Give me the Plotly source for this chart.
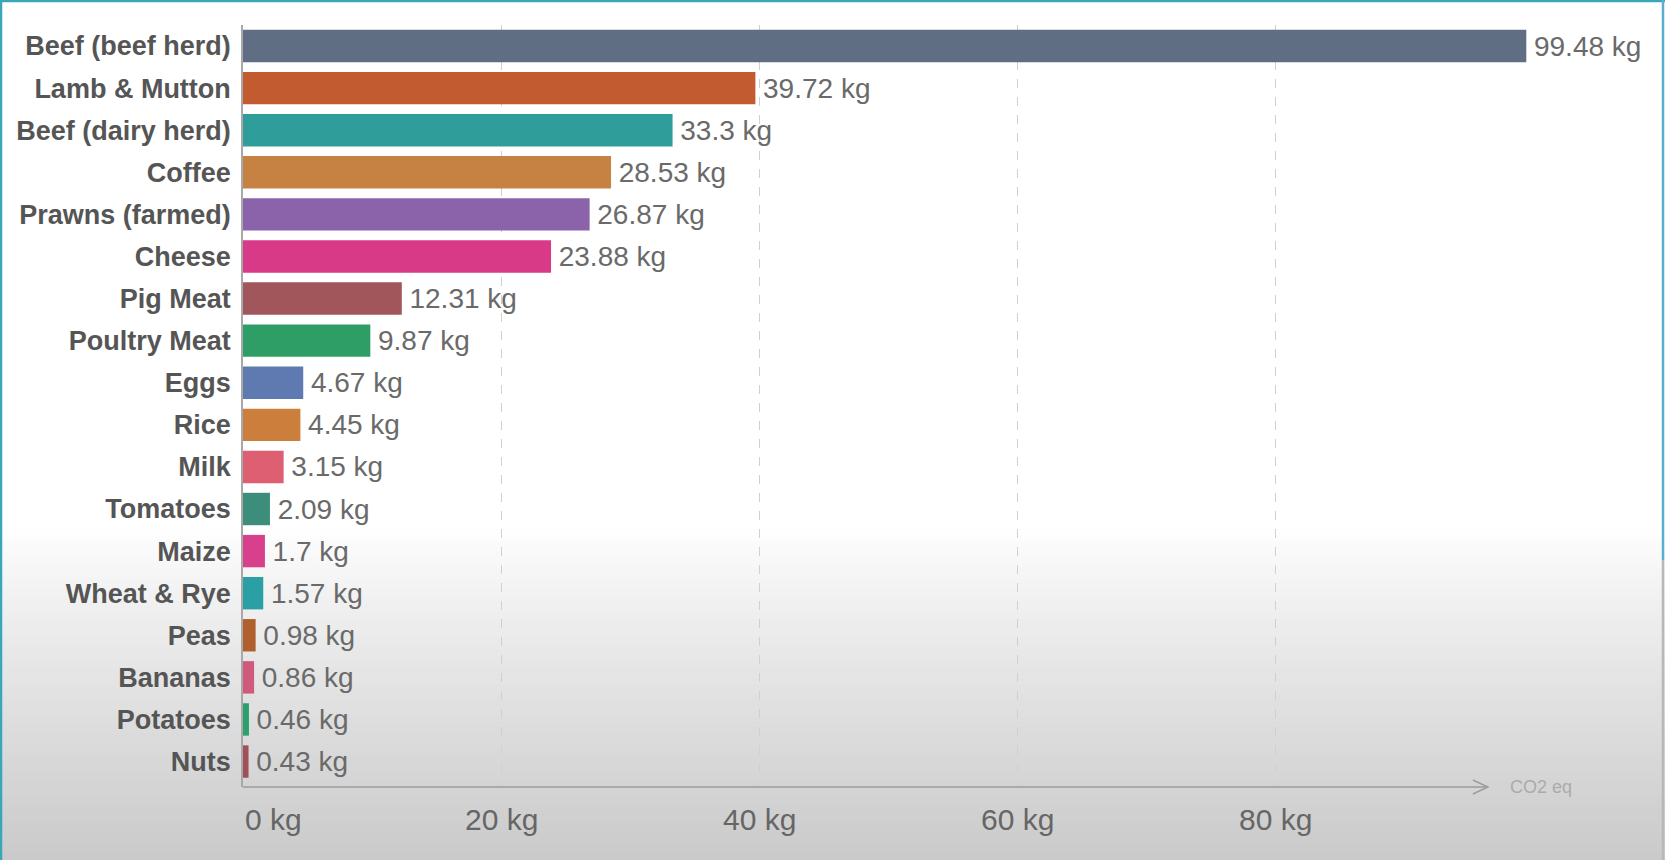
import numpy as np
import plotly.graph_objects as go


FOODS = [
    "Beef (beef herd)", "Lamb & Mutton", "Beef (dairy herd)", "Coffee",
    "Prawns (farmed)", "Cheese", "Pig Meat", "Poultry Meat", "Eggs", "Rice",
    "Milk", "Tomatoes", "Maize", "Wheat & Rye", "Peas", "Bananas",
    "Potatoes", "Nuts",
]
CO2_KG = [
    99.48, 39.72, 33.3, 28.53, 26.87, 23.88, 12.31, 9.87, 4.67, 4.45,
    3.15, 2.09, 1.7, 1.57, 0.98, 0.86, 0.46, 0.43,
]
BAR_COLORS = [
    "#5f6e83", "#c25b2f", "#2f9e9a", "#c58242", "#8b63aa", "#d93a87",
    "#a0565a", "#2e9e66", "#5f7ab0", "#cc7f3c", "#df5f72", "#3d8d7b",
    "#d8408c", "#2aa0a4", "#b0602f", "#cf5a7b", "#2b9f6d", "#a05058",
]
TICK_VALUES = [0, 20, 40, 60, 80]
TICK_LABELS = ["0 kg", "20 kg", "40 kg", "60 kg", "80 kg"]
AXIS_END = 96.5

W, H = 1665, 860
M_L, M_R, M_T, M_B = 243, 132, 25, 73
PLOT_W = W - M_L - M_R
PLOT_H = H - M_T - M_B
FONT = "Liberation Sans, Arial, sans-serif"


def px_x(px):
    # figure pixel -> paper x
    return (px - M_L) / PLOT_W


def px_y(px):
    # figure pixel (from top) -> paper y
    return (H - M_B - px) / PLOT_H


fig = go.Figure(
    go.Bar(
        x=CO2_KG,
        y=FOODS,
        orientation="h",
        width=0.77,
        marker=dict(color=BAR_COLORS, line=dict(width=0)),
        text=["\u2006%g kg" % v for v in CO2_KG],
        textposition="outside",
        cliponaxis=False,
        textfont=dict(family=FONT, size=28, color="#6a6a6a"),
        hoverinfo="skip",
    )
)

# background fade towards the bottom (screen capture shading)
shapes = []
y_start, n_bands = 530, 60
edges = np.linspace(y_start, H, n_bands + 1)
for k in range(n_bands):
    t = (k + 0.5) / n_bands
    g = int(round(255 - (255 - 202) * t ** 0.85))
    shapes.append(dict(
        type="rect", xref="paper", yref="paper", layer="below",
        x0=px_x(-5), x1=px_x(W + 5),
        y0=px_y(edges[k + 1] + 0.5), y1=px_y(edges[k] - 0.5),
        fillcolor="rgb(%d,%d,%d)" % (g, g, g), line=dict(width=0),
    ))

# x axis line with an open arrow head
shapes.append(dict(
    type="line", xref="x", yref="paper", x0=0, x1=AXIS_END, y0=0, y1=0,
    line=dict(color="#9c9c9c", width=1.5),
))
shapes.append(dict(
    type="path", xref="x", yref="paper", xsizemode="pixel", ysizemode="pixel",
    xanchor=AXIS_END, yanchor=0, path="M-15,-7 L0,0 L-15,7",
    line=dict(color="#9c9c9c", width=1.5),
))

# frame edges of the capture
frame = [
    (1, 1, 0, H, "#3aa7b6"),
    (0, W, 1, 1, "#3aa7b6"),
    (W - 2, W - 2, 0, 560, "#5aaed0"),
    (W - 2, W - 2, 560, H, "#b8b8b8"),
]
for x0, x1, y0, y1, col in frame:
    shapes.append(dict(
        type="line", xref="paper", yref="paper",
        x0=px_x(x0), x1=px_x(x1), y0=px_y(y0), y1=px_y(y1),
        line=dict(color=col, width=2.5),
    ))

annotations = []
for v, lab in zip(TICK_VALUES, TICK_LABELS):
    annotations.append(dict(
        x=v, y=0, xref="x", yref="paper", text=lab, showarrow=False,
        xanchor="left" if v == 0 else "center", yanchor="middle", yshift=-32,
        font=dict(family=FONT, size=30, color="#666666"),
    ))
annotations.append(dict(
    x=AXIS_END, y=0, xref="x", yref="paper", text="CO2 eq", showarrow=False,
    xanchor="left", yanchor="middle", xshift=20,
    font=dict(family=FONT, size=18, color="#ababab"),
))

fig.update_layout(
    width=W,
    height=H,
    margin=dict(l=M_L, r=M_R, t=M_T, b=M_B, pad=0),
    paper_bgcolor="white",
    plot_bgcolor="rgba(0,0,0,0)",
    showlegend=False,
    shapes=shapes,
    annotations=annotations,
    xaxis=dict(
        range=[0, 100],
        tickvals=TICK_VALUES[1:],
        showticklabels=False,
        showgrid=True,
        gridcolor="#d0d0d0",
        griddash="dash",
        gridwidth=1,
        zeroline=False,
        showline=False,
        fixedrange=True,
    ),
    yaxis=dict(
        categoryorder="array",
        categoryarray=FOODS,
        range=[17.605, -0.5],
        showline=True,
        linecolor="#a8a8a8",
        linewidth=1.5,
        showgrid=False,
        zeroline=False,
        ticks="",
        ticklabelstandoff=5,
        tickfont=dict(family=FONT, size=27, color="#555555", weight="bold"),
        fixedrange=True,
    ),
)

fig.write_html(
    "out.html",
    config={"displayModeBar": False},
    post_script="document.body.style.margin='0px';",
)
